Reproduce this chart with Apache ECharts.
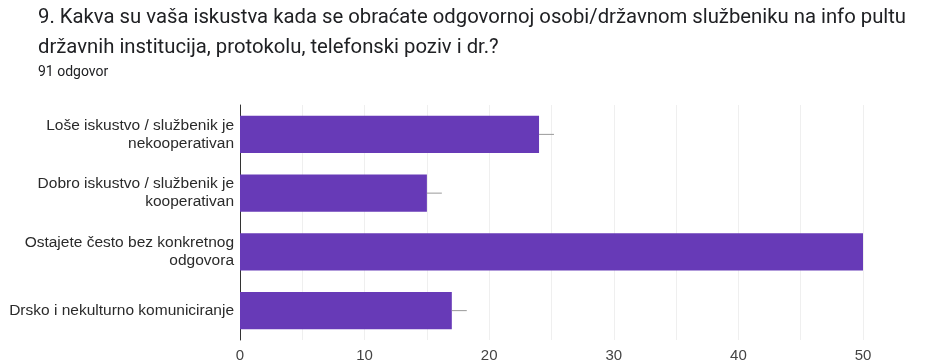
<!DOCTYPE html>
<html><head><meta charset="utf-8">
<script src="https://cdn.jsdelivr.net/npm/echarts@6/dist/echarts.min.js"></script>
<style>html,body{margin:0;padding:0;background:#fff}#c{width:927px;height:363px}</style>
</head><body><div id="c"></div>
<script>
const titleLines = ["9. Kakva su vaša iskustva kada se obraćate odgovornoj osobi/državnom službeniku na info pultu", "državnih institucija, protokolu, telefonski poziv i dr.?"];
const subtitle = "91 odgovor";
const categories = ["Loše iskustvo / službenik je\nnekooperativan", "Dobro iskustvo / službenik je\nkooperativan", "Ostajete često bez konkretnog\nodgovora", "Drsko i nekulturno komuniciranje"];
const values = [24, 15, 50, 17];
const whiskerEnds = [25.2, 16.2, 51.2, 18.2];
const xTicks = [0, 10, 20, 30, 40, 50];

const chart = echarts.init(document.getElementById('c'), null, {renderer: 'canvas'});
chart.setOption({
  animation: false,
  title: [
    {text: titleLines.join('\n'), left: 38, top: 3, padding: 0, textStyle: {fontFamily: 'Roboto', fontSize: 20.3, fontWeight: 'normal', color: '#202124', lineHeight: 30}},
    {text: subtitle, left: 38, top: 65, padding: 0, textStyle: {fontFamily: 'Roboto', fontSize: 14, fontWeight: 'normal', color: '#202124'}}
  ],
  grid: {left: 240, right: 64, top: 105, bottom: 20, containLabel: false},
  xAxis: {
    type: 'value', min: 0, max: 50, interval: 5,
    axisLine: {show: false}, axisTick: {show: false},
    splitLine: {show: true, lineStyle: {color: '#efefef', width: 1}},
    axisLabel: {
      fontFamily: 'Liberation Sans', fontSize: 15, color: '#444', margin: 8,
      formatter: v => xTicks.includes(v) ? String(v) : ''
    }
  },
  yAxis: {
    type: 'category', data: categories, inverse: true,
    axisLine: {show: true, lineStyle: {color: '#333', width: 1}},
    axisTick: {show: false},
    axisLabel: {fontFamily: 'Liberation Sans', fontSize: 15.5, color: '#2a2a2a', lineHeight: 18, margin: 6, align: 'right'}
  },
  series: [
    {type: 'bar', data: values, barWidth: '63%', itemStyle: {color: '#673ab7'}, z: 2},
    {
      type: 'custom', clip: true, z: 3,
      data: values.map((v, i) => [v, whiskerEnds[i], i]),
      renderItem: (params, api) => {
        const a = api.coord([api.value(0), api.value(2)]);
        const b = api.coord([api.value(1), api.value(2)]);
        return {type: 'line', shape: {x1: a[0], y1: a[1], x2: b[0], y2: b[1]}, style: {stroke: '#999', lineWidth: 1}};
      },
      encode: {x: [0, 1], y: 2}
    }
  ]
});
</script></body></html>
